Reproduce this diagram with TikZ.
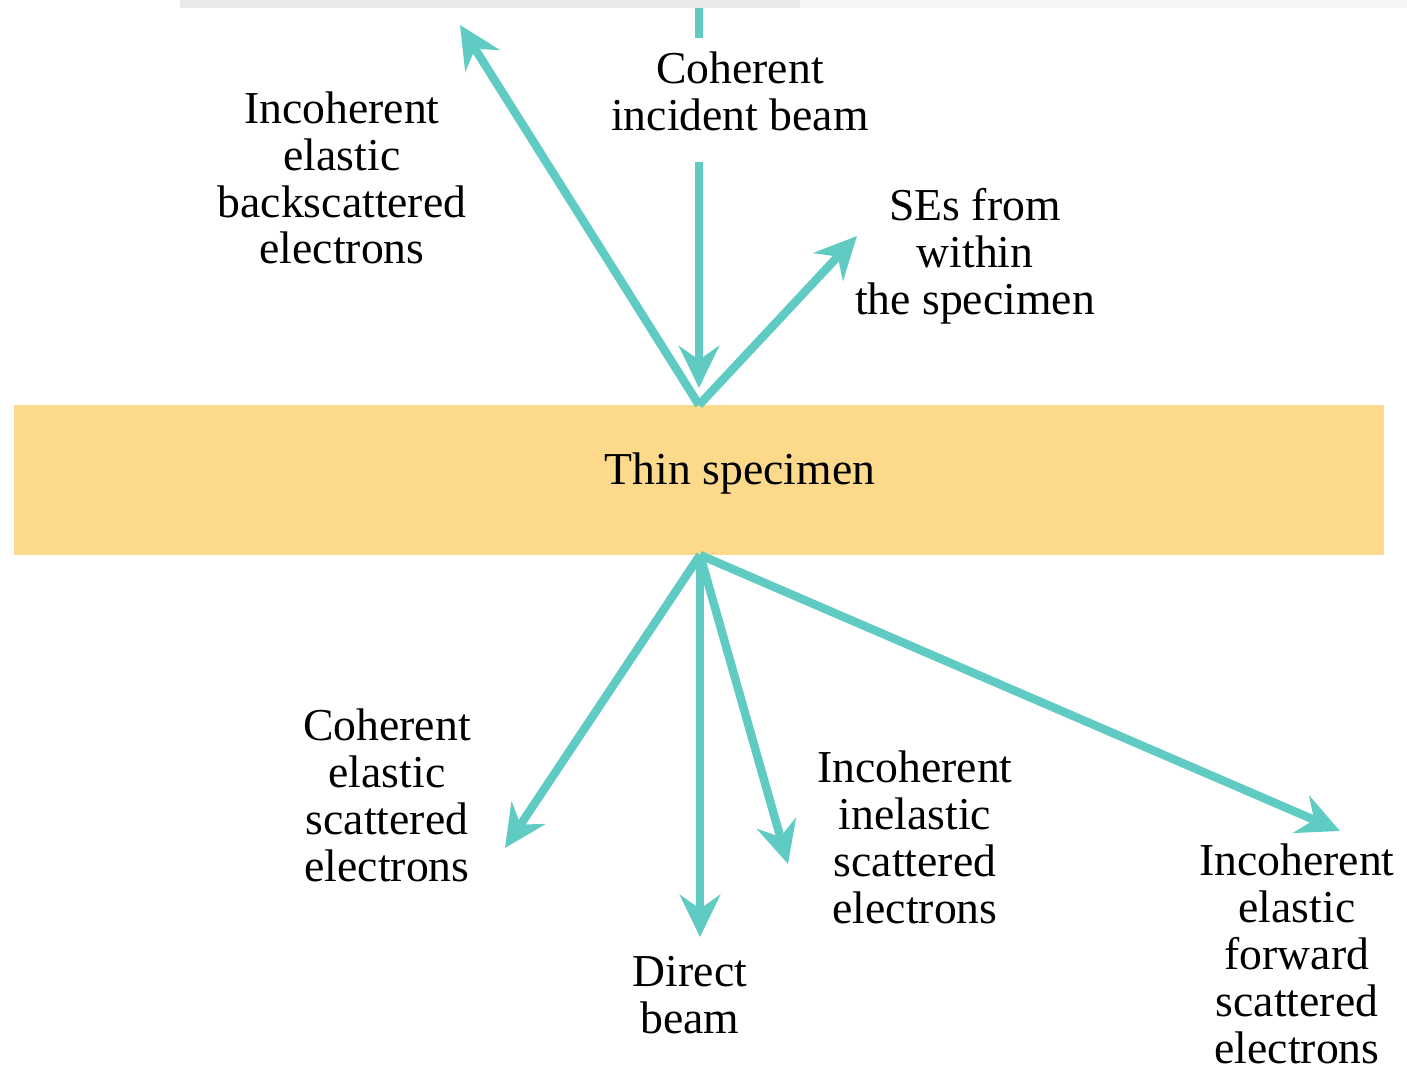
\documentclass[tikz,border=0pt]{standalone}
\usepackage{fontspec}
\setmainfont{Liberation Serif}
\usetikzlibrary{arrows.meta}
\definecolor{teal1}{HTML}{5FCBC3}
\definecolor{spec}{HTML}{FDD98C}
\definecolor{topbar}{HTML}{E9EAEC}
\begin{document}
\begin{tikzpicture}[x=0.02cm,y=-0.02cm,
  lbl/.style={align=center,font=\fontsize{26}{26.7}\selectfont,inner sep=0pt},
  ray/.style={draw=teal1,line width=4.8pt,-{Stealth[length=24pt,width=23pt,inset=8pt]}},
  plain/.style={draw=teal1,line width=4.8pt}]
\useasboundingbox (0,0) rectangle (1407,1072);
\fill[topbar] (180,0) rectangle (800,8);
\fill[topbar!50] (800,0) rectangle (1407,8);
\node[fill=spec,minimum width=1370*0.02cm,minimum height=150*0.02cm,inner sep=0pt] (spec) at (699,480) {};
\node[lbl] (spect) at (740,474) {Thin specimen};
\coordinate (top) at (699,405);
\coordinate (bot) at (700,555);
\coordinate (beamtop) at (699,8);
\coordinate (beamtopend) at (699,38);
\coordinate (beamstart) at (699,162);
\coordinate (beamtip) at (699,388);
\coordinate (bs) at (460,25);
\coordinate (se) at (857,236);
\coordinate (ce) at (505,848);
\coordinate (db) at (700,937);
\coordinate (ii) at (788,864);
\coordinate (ief) at (1340,831);
\draw[plain] (beamtop) -- (beamtopend);
\draw[ray] (beamstart) -- (beamtip);
\draw[ray] (top) -- (bs);
\draw[ray] (top) -- (se);
\draw[ray] (bot) -- (ce);
\draw[ray] (bot) -- (db);
\draw[ray] (bot) -- (ii);
\draw[ray] (bot) -- (ief);
\node[lbl] (lbeam) at (740,91) {Coherent\\incident beam};
\node[lbl] (lbs) at (342,178) {Incoherent\\elastic\\backscattered\\electrons};
\node[lbl] (lse) at (975,256) {SEs from\\within\\the specimen};
\node[lbl] (lce) at (387,795) {Coherent\\elastic\\scattered\\electrons};
\node[lbl] (ldb) at (690,995) {Direct\\beam};
\node[lbl] (lii) at (915,837) {Incoherent\\inelastic\\scattered\\electrons};
\node[lbl] (lief) at (1297,954) {Incoherent\\elastic\\forward\\scattered\\electrons};
\end{tikzpicture}
\end{document}
